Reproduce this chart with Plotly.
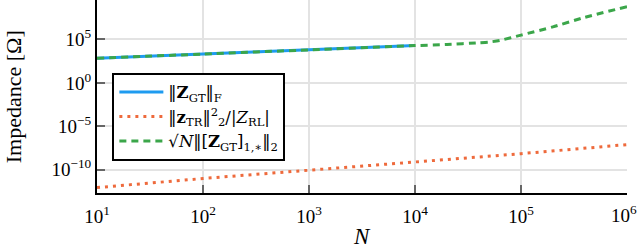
import plotly.graph_objects as go

# Data
n_blue = [10, 100, 1000, 10000]
z_gt_fro = [692, 2089, 6310, 19500]

n_orange = [10, 100, 1000, 10000, 100000, 1000000]
z_tr_ratio = [8.9e-13, 1.0e-11, 8.9e-11, 7.9e-10, 7.2e-9, 7.9e-8]

n_green = [10, 100, 1000, 10000, 20000, 40000, 50000, 63000, 100000, 200000, 400000, 1000000]
z_row_bound = [692, 2089, 6310, 19500, 26300, 41700, 50000, 75900, 316000, 2.8e6, 3.5e7, 5.9e8]

x_tick_vals = [1e1, 1e2, 1e3, 1e4, 1e5, 1e6]
x_tick_text = ["10<sup>1</sup>", "10<sup>2</sup>", "10<sup>3</sup>", "10<sup>4</sup>", "10<sup>5</sup>", ""]
last_x_label = "10<sup>6</sup>"
y_tick_vals = [1e5, 1e0, 1e-5, 1e-10]
y_tick_text = ["10<sup>5</sup>", "10<sup>0</sup>", "10<sup>−5</sup>", "10<sup>−10</sup>"]

labels = [
    "‖<b>Z</b><sub>GT</sub>‖<sub>F</sub>",
    "‖<b>z</b><sub>TR</sub>‖<sup>2</sup><sub>2</sub>/|<i>Z</i><sub>RL</sub>|",
    "√<i>N</i>‖[<b>Z</b><sub>GT</sub>]<sub>1,∗</sub>‖<sub>2</sub>",
]

FONT = "Liberation Serif"

fig = go.Figure()
fig.add_trace(go.Scatter(x=n_blue, y=z_gt_fro, mode="lines", name=labels[0], legendgroup="a",
                         line=dict(color="#1E9BF0", width=3)))
fig.add_trace(go.Scatter(x=n_orange, y=z_tr_ratio, mode="lines", name=labels[1], legendgroup="b",
                         line=dict(color="#EE6A3C", width=3, dash="3px,5px")))
fig.add_trace(go.Scatter(x=n_green, y=z_row_bound, mode="lines", name=labels[2], legendgroup="c",
                         line=dict(color="#3BA64A", width=3, dash="7px,5px", shape="spline", smoothing=0.6)))

axis_common = dict(showline=True, linecolor="black", linewidth=2,
                   showgrid=True, gridcolor="#e3e3e3", gridwidth=1.5,
                   ticks="inside", ticklen=8, tickcolor="#666", tickwidth=1.5,
                   zeroline=False, tickfont=dict(size=19), automargin=False)

fig.update_layout(
    width=640, height=250,
    margin=dict(l=97, r=13, t=0, b=57, autoexpand=False),
    paper_bgcolor="white", plot_bgcolor="white",
    font=dict(family=FONT, size=19, color="black"),
    showlegend=True,
    legend=dict(x=0.029, y=0.623, xanchor="left", yanchor="top",
                bgcolor="white", bordercolor="black", borderwidth=2,
                font=dict(family="DejaVu Serif", size=16.5), tracegroupgap=0,
                itemwidth=44),
    xaxis=dict(type="log", range=[1, 6], tickvals=x_tick_vals, ticktext=x_tick_text,
               ticklabelstandoff=5, **axis_common),
    yaxis=dict(type="log", range=[-12.67, 9.54], tickvals=y_tick_vals, ticktext=y_tick_text, **axis_common),
    annotations=[
        dict(text="Impedance [Ω]", xref="paper", yref="paper", x=-0.157, y=0.5,
             textangle=-90, showarrow=False, font=dict(size=22), xanchor="center", yanchor="middle"),
        dict(text="<i>N</i>", xref="paper", yref="paper", x=0.5, y=-0.225,
             showarrow=False, font=dict(size=23), xanchor="center", yanchor="middle"),
        dict(text=last_x_label, xref="paper", yref="paper", x=1.0, y=0, yshift=-7,
             xshift=12, showarrow=False, font=dict(size=19), xanchor="right", yanchor="top"),
    ],
)

fig.write_html("out.html", config={"displayModeBar": False},
               post_script="document.body.style.margin='0';document.body.style.padding='0';")
